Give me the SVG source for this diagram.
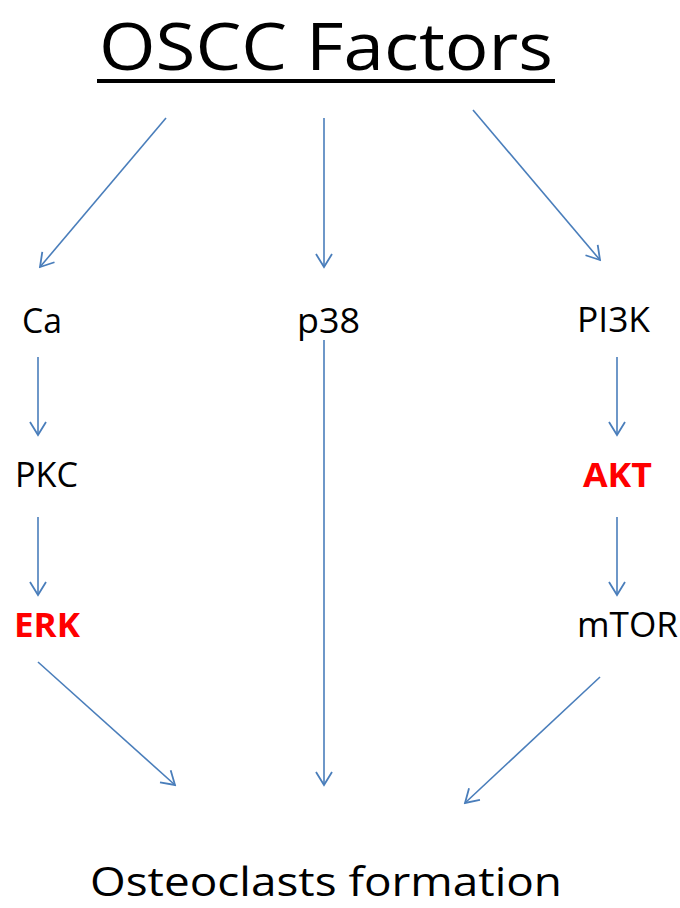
<svg xmlns="http://www.w3.org/2000/svg" width="680" height="908" viewBox="0 0 680 908">
<style>
.t{font-family:"Open Sans","Liberation Sans",sans-serif;fill:#000}
.n{font-size:34px}
.r{font-size:34px;font-weight:bold;fill:#ff0000}
.c{stroke:#4a7ebb;stroke-width:1.6;fill:none;marker-end:url(#ah)}
</style>
<defs>
<marker id="ah" markerUnits="userSpaceOnUse" markerWidth="16" markerHeight="20" viewBox="0 0 16 20" refX="14" refY="10" orient="auto">
<path d="M1,2 L14,10 L1,18" fill="none" stroke="#4a7ebb" stroke-width="1.8"/>
</marker>
</defs>
<rect width="680" height="908" fill="#fff"/>
<g id="title">
<text class="t" x="99" y="70" font-size="65" textLength="454" lengthAdjust="spacingAndGlyphs">OSCC Factors</text>
<rect x="97" y="79" width="458" height="4" fill="#000"/>
</g>
<g id="connectors">
<line class="c" x1="166" y1="118" x2="40" y2="267"/>
<line class="c" x1="324" y1="118" x2="324" y2="267"/>
<line class="c" x1="473" y1="110" x2="600" y2="260"/>
<line class="c" x1="38" y1="357" x2="38" y2="435"/>
<line class="c" x1="38" y1="517" x2="38" y2="595"/>
<line class="c" x1="617" y1="357" x2="617" y2="435"/>
<line class="c" x1="617" y1="517" x2="617" y2="595"/>
<line class="c" x1="38" y1="662" x2="175" y2="785"/>
<line class="c" x1="324" y1="340" x2="324" y2="785"/>
<line class="c" x1="600" y1="677" x2="465" y2="803"/>
</g>
<g id="Ca"><text class="t n" x="22" y="333" textLength="40" lengthAdjust="spacingAndGlyphs">Ca</text></g>
<g id="p38"><text class="t n" x="297" y="333" textLength="63" lengthAdjust="spacingAndGlyphs">p38</text></g>
<g id="PI3K"><text class="t n" x="577" y="332" textLength="73" lengthAdjust="spacingAndGlyphs">PI3K</text></g>
<g id="PKC"><text class="t n" x="15" y="487" textLength="63" lengthAdjust="spacingAndGlyphs">PKC</text></g>
<g id="AKT"><text class="t r" x="583" y="487" textLength="69" lengthAdjust="spacingAndGlyphs">AKT</text></g>
<g id="ERK"><text class="t r" x="14" y="637" textLength="66" lengthAdjust="spacingAndGlyphs">ERK</text></g>
<g id="mTOR"><text class="t n" x="577" y="637" textLength="101" lengthAdjust="spacingAndGlyphs">mTOR</text></g>
<g id="osteoclasts"><text class="t" x="90" y="896" font-size="40" textLength="472" lengthAdjust="spacingAndGlyphs">Osteoclasts formation</text></g>
</svg>
